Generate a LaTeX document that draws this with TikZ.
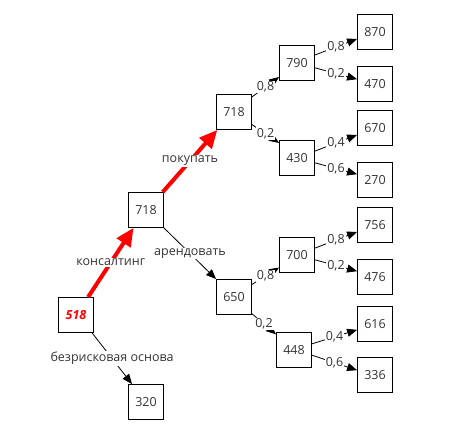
\documentclass[tikz,border=0pt]{standalone}
\usepackage{fontspec}
\setmainfont{Open Sans}
\usetikzlibrary{arrows.meta}
\begin{document}
\begin{tikzpicture}[x=1pt,y=-1pt,line width=.8pt,
  every node/.style={font=\fontsize{12.5}{14}\selectfont,text=black!80,inner sep=1pt},
  box/.style={draw=black,minimum width=35pt,minimum height=35pt},
  edge/.style={-{Triangle[length=10pt,width=8pt]}},
  best/.style={draw=red,line width=4pt,-{Triangle[length=18pt,width=16pt]}},
  lbl/.style={midway,fill=white}]
  \path[use as bounding box] (0,0) rectangle (465,437);
  % decision nodes
  \node[box] (n518) at (76,315) {\textcolor{red}{\bfseries\itshape 518}};
  \node[box] (n320) at (146,402) {320};
  \node[box] (n718a) at (146,210) {718};
  \node[box] (n718b) at (234,112) {718};
  \node[box] (n650) at (234,297) {650};
  % chance nodes
  \node[box] (n790) at (297,63) {790};
  \node[box] (n430) at (297,158) {430};
  \node[box] (n700) at (297,255) {700};
  \node[box] (n448) at (294,350) {448};
  % outcomes
  \node[box] (n870) at (375,32) {870};
  \node[box] (n470) at (375,84) {470};
  \node[box] (n670) at (375,128) {670};
  \node[box] (n270) at (375,180) {270};
  \node[box] (n756) at (375,225) {756};
  \node[box] (n476) at (375,277) {476};
  \node[box] (n616) at (375,324) {616};
  \node[box] (n336) at (375,375) {336};
  % optimal path
  \draw[best] (n518.56) -- (n718a.235) node[lbl] {консалтинг};
  \draw[best] (n718a.47) -- (n718b.227) node[lbl] {покупать};
  % other choices
  \draw[edge] (n518.-48) -- (n320.128) node[lbl] {безрисковая основа};
  \draw[edge] (n718a.-45) -- (n650.135) node[lbl] {арендовать};
  % probabilities
  \draw[edge] (n718b.40) -- (n790.218) node[lbl] {0,8};
  \draw[edge] (n718b.-35) -- (n430.140) node[lbl] {0,2};
  \draw[edge] (n650.35) -- (n700.215) node[lbl] {0,8};
  \draw[edge] (n650.-43) -- (n448.139) node[lbl] {0,2};
  \draw[edge] (n790.24) -- (n870.201) node[lbl] {0,8};
  \draw[edge] (n790.-15) -- (n470.165) node[lbl] {0,2};
  \draw[edge] (n430.21) -- (n670.201) node[lbl] {0,4};
  \draw[edge] (n430.-15) -- (n270.162) node[lbl] {0,6};
  \draw[edge] (n700.21) -- (n756.201) node[lbl] {0,8};
  \draw[edge] (n700.-15) -- (n476.162) node[lbl] {0,2};
  \draw[edge] (n448.19) -- (n616.198) node[lbl] {0,4};
  \draw[edge] (n448.-16) -- (n336.165) node[lbl] {0,6};
\end{tikzpicture}
\end{document}
